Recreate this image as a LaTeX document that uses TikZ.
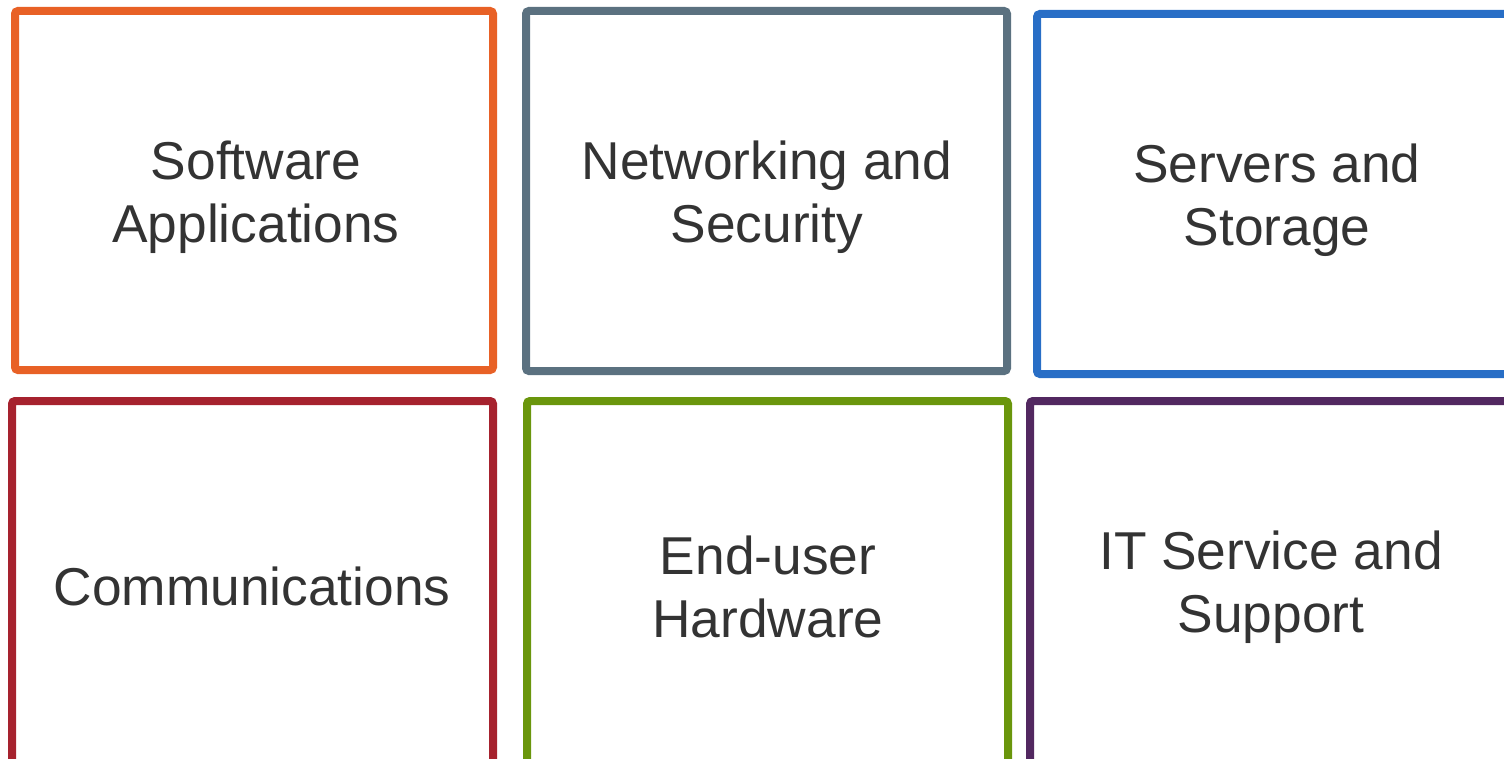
\documentclass[tikz,border=0pt]{standalone}
\usepackage{fontspec}
\setmainfont{Liberation Sans}
\definecolor{cOrange}{RGB}{232,97,38}
\definecolor{cGray}{RGB}{91,113,128}
\definecolor{cBlue}{RGB}{40,110,198}
\definecolor{cRed}{RGB}{166,34,46}
\definecolor{cGreen}{RGB}{106,150,12}
\definecolor{cPurple}{RGB}{82,40,96}
\definecolor{cText}{RGB}{51,51,51}
\tikzset{
  tile/.style={draw=#1, line width=8pt, rounded corners=3pt},
  tiletext/.style={text=cText, align=center, font=\fontsize{53.3}{63}\selectfont, inner sep=0pt}
}
\begin{document}
\begin{tikzpicture}[x=1pt,y=-1pt]
\useasboundingbox (0,0) rectangle (1504,759);
\begin{scope}
\clip (0,0) rectangle (1504,759);
\draw[tile=cOrange] (15,11) rectangle (493,370);
\draw[tile=cGray] (526,11) rectangle (1007,371);
\draw[tile=cBlue] (1037,14) rectangle (1525,374);
\draw[tile=cRed] (12,401) rectangle (493,765);
\draw[tile=cGreen] (527,401) rectangle (1008,765);
\draw[tile=cPurple] (1030,401) rectangle (1515,765);
\end{scope}
\node[tiletext] (sw) at (256,197) {Software\\Applications};
\node[tiletext] (ns) at (767,197) {Networking and\\Security};
\node[tiletext] (ss) at (1277,200) {Servers and\\Storage};
\node[tiletext] (cm) at (252,586) {Communications};
\node[tiletext] (eu) at (768,587) {End-user\\Hardware};
\node[tiletext] (it) at (1271,587) {IT Service and\\Support};
\end{tikzpicture}
\end{document}
